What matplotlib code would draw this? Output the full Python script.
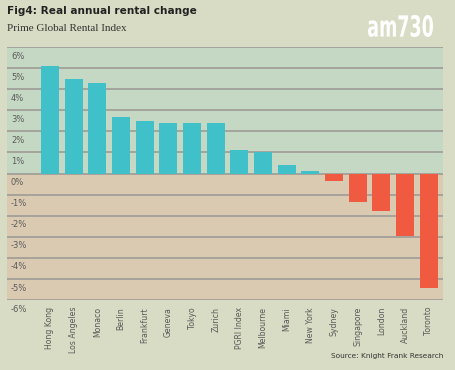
import numpy as np
import matplotlib.pyplot as plt
from matplotlib.transforms import blended_transform_factory, Affine2D
from matplotlib.textpath import TextPath
from matplotlib.font_manager import FontProperties
from matplotlib.patches import PathPatch

# data
cities = ['Hong Kong', 'Los Angeles', 'Monaco', 'Berlin', 'Frankfurt', 'Geneva',
          'Tokyo', 'Zurich', 'PGRI Index', 'Melbourne', 'Miami', 'New York',
          'Sydney', 'Singapore', 'London', 'Auckland', 'Toronto']
change = [5.1, 4.5, 4.3, 2.7, 2.5, 2.4, 2.4, 2.4, 1.1, 1.0, 0.4, 0.1,
          -0.35, -1.35, -1.8, -2.95, -5.45]
yticks = list(range(-6, 7))

outer_bg = '#d9dcc4'
pos_bg = '#c5d8c3'
neg_bg = '#dbcab2'
teal = '#40c0c8'
red = '#f05a40'
grid_col = '#a09e98'
label_col = '#5a5a5a'

W, H = 456, 370
fig = plt.figure(figsize=(W / 100, H / 100), dpi=100, facecolor=outer_bg)
ax = fig.add_axes([7 / W, 1 - 300 / H, 436 / W, 253 / H])
ax.set_facecolor(outer_bg)

x = np.arange(len(cities))
ax.set_xlim(-1.815, 16.6)
ax.set_ylim(-6, 6)

ax.axhspan(0, 6, color=pos_bg, zorder=0, lw=0)
ax.axhspan(-6, 0, color=neg_bg, zorder=0, lw=0)
for t in yticks:
    ax.axhline(t, color=grid_col, lw=1.25, zorder=1)

colors = [teal if v >= 0 else red for v in change]
ax.bar(x, change, width=0.76, color=colors, zorder=2)

# y labels sit just under each gridline, inside the plot
tr = blended_transform_factory(ax.transAxes, ax.transData)
for t in yticks:
    ax.text(0.009, t - 0.22, f'{t}%', transform=tr, ha='left', va='top',
            fontsize=6, color=label_col, zorder=3, clip_on=False)

ax.set_yticks([])
ax.set_xticks(x)
ax.set_xticklabels(cities, rotation=90, fontsize=5.6, color=label_col)
ax.tick_params(axis='x', length=0, pad=5)
for s in ax.spines.values():
    s.set_visible(False)

fig.text(7 / W, 1 - 6 / H, 'Fig4: Real annual rental change', fontsize=7.6,
         fontweight='bold', color='#222222', ha='left', va='top')
fig.text(7 / W, 1 - 24 / H, 'Prime Global Rental Index', fontsize=8,
         family='Liberation Serif', color='#333333', ha='left', va='top')
fig.text(443 / W, 1 - 353 / H, 'Source: Knight Frank Research', fontsize=5.3,
         color='#333333', ha='right', va='top')

# am730 logo, squeezed into its box
tp = TextPath((0, 0), 'am730', size=1, prop=FontProperties(family='DejaVu Sans', weight='bold'))
ext = tp.get_extents()
x0, x1, y0, y1 = 368 / W, 433 / W, 1 - 37 / H, 1 - 15 / H
tf = Affine2D().translate(-ext.x0, -ext.y0).scale((x1 - x0) / ext.width,
                                                  (y1 - y0) / ext.height).translate(x0, y0)
fig.patches.append(PathPatch(tp, transform=tf + fig.transFigure, facecolor='white',
                             edgecolor='none'))

fig.savefig('out.png', dpi=100, facecolor=outer_bg)
